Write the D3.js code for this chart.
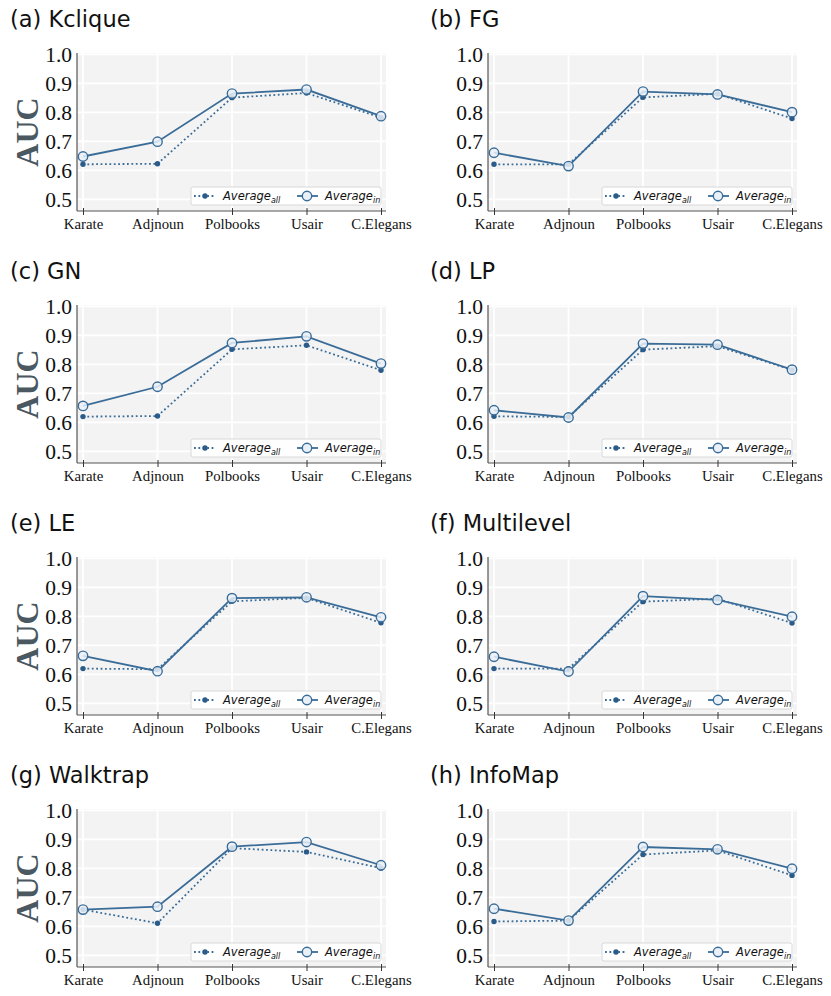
<!DOCTYPE html>
<html>
<head>
<meta charset="utf-8">
<script src="https://cdn.jsdelivr.net/npm/d3@7"></script>
<style>
  body { margin: 0; background: #fff; }
  svg { display: block; }
</style>
</head>
<body>
<div id="chart"></div>
<script>
// data
const datasets = ["Karate", "Adjnoun", "Polbooks", "Usair", "C.Elegans"];
const yTicks = [0.5, 0.6, 0.7, 0.8, 0.9, 1.0];

const panelTitles = ["(a) Kclique", "(b) FG", "(c) GN", "(d) LP",
  "(e) LE", "(f) Multilevel", "(g) Walktrap", "(h) InfoMap"];

// Average_in (solid, open circles)
const averageIn = [
  [0.648, 0.699, 0.865, 0.879, 0.787],
  [0.661, 0.615, 0.872, 0.862, 0.801],
  [0.657, 0.723, 0.874, 0.897, 0.803],
  [0.642, 0.617, 0.872, 0.868, 0.782],
  [0.664, 0.611, 0.863, 0.866, 0.797],
  [0.661, 0.610, 0.870, 0.857, 0.799],
  [0.658, 0.668, 0.875, 0.891, 0.811],
  [0.661, 0.620, 0.874, 0.866, 0.799],
];

// Average_all (dotted, small dots)
const averageAll = [
  [0.621, 0.623, 0.851, 0.867, 0.782],
  [0.621, 0.621, 0.852, 0.864, 0.779],
  [0.620, 0.622, 0.852, 0.866, 0.780],
  [0.621, 0.619, 0.851, 0.863, 0.781],
  [0.620, 0.618, 0.852, 0.864, 0.778],
  [0.620, 0.620, 0.851, 0.861, 0.777],
  [0.658, 0.611, 0.870, 0.857, 0.801],
  [0.617, 0.620, 0.848, 0.862, 0.776],
];

const width = 831, height = 996;
const plotW = 309, plotH = 158;
const colX = [77, 488];
const rowY = 53, rowStep = 252;

const lineColor = "#3a6c98";
const dotColor = "#2a5b89";
const serif = "'Liberation Serif', 'Times New Roman', serif";
const sans = "'DejaVu Sans', sans-serif";

const svg = d3.select("#chart").append("svg")
  .attr("width", width)
  .attr("height", height)
  .attr("viewBox", [0, 0, width, height]);

const x = d3.scalePoint().domain(datasets).range([6, plotW - 5]);
const y = d3.scaleLinear().domain([0.46, 1.005]).range([plotH, 0]);

const line = d3.line()
  .x((d, i) => x(datasets[i]))
  .y((d) => y(d));

panelTitles.forEach((title, p) => {
  const col = p % 2, row = Math.floor(p / 2);
  const ox = colX[col], oy = rowY + row * rowStep;

  svg.append("text")
    .attr("x", ox - (col === 0 ? 67 : 58))
    .attr("y", oy - 26)
    .style("font-family", sans)
    .style("font-size", "22.5px")
    .style("fill", "#111")
    .text(title);

  const g = svg.append("g").attr("transform", `translate(${ox}, ${oy})`);

  g.append("rect")
    .attr("width", plotW)
    .attr("height", plotH)
    .attr("fill", "#f3f3f3");

  // white grid
  g.selectAll(".hgrid")
    .data(yTicks)
    .join("line")
    .attr("class", "hgrid")
    .attr("x1", 0).attr("x2", plotW)
    .attr("y1", (d) => y(d)).attr("y2", (d) => y(d))
    .attr("stroke", "#fff")
    .attr("stroke-width", 1.8);

  g.selectAll(".vgrid")
    .data(datasets)
    .join("line")
    .attr("class", "vgrid")
    .attr("x1", (d) => x(d)).attr("x2", (d) => x(d))
    .attr("y1", 0).attr("y2", plotH)
    .attr("stroke", "#fff")
    .attr("stroke-width", 1.8);

  // axes
  const yAxis = g.append("g")
    .call(d3.axisLeft(y).tickValues(yTicks).tickFormat(d3.format(".1f")).tickSize(0).tickPadding(5));
  yAxis.select(".domain").attr("stroke", "#555").attr("stroke-width", 1.2)
    .attr("d", `M0,0V${plotH}`);
  yAxis.selectAll("text")
    .style("font-family", serif)
    .style("font-size", "21.5px")
    .style("fill", "#111");

  const xAxis = g.append("g")
    .attr("transform", `translate(0, ${plotH})`)
    .call(d3.axisBottom(x).tickSizeInner(4).tickSizeOuter(0).tickPadding(3));
  xAxis.select(".domain").attr("stroke", "#555").attr("stroke-width", 1.2)
    .attr("d", `M0,0H${plotW}`);
  xAxis.selectAll(".tick line").attr("stroke", "#333").attr("y1", -3);
  xAxis.selectAll("text")
    .style("font-family", serif)
    .style("font-size", "14.8px")
    .style("fill", "#111");

  if (col === 0) {
    svg.append("text")
      .attr("transform", `translate(${ox - 39}, ${oy + plotH / 2}) rotate(-90)`)
      .attr("text-anchor", "middle")
      .style("font-family", serif)
      .style("font-weight", "bold")
      .style("font-size", "32px")
      .style("fill", "#4a5862")
      .text("AUC");
  }

  // Average_all: dotted line + small dots
  g.append("path")
    .attr("d", line(averageAll[p]))
    .attr("fill", "none")
    .attr("stroke", lineColor)
    .attr("stroke-width", 1.8)
    .attr("stroke-dasharray", "1.8,2.6");

  g.selectAll(".dot")
    .data(averageAll[p])
    .join("circle")
    .attr("class", "dot")
    .attr("cx", (d, i) => x(datasets[i]))
    .attr("cy", (d) => y(d))
    .attr("r", 2.7)
    .attr("fill", dotColor);

  // Average_in: solid line + open circles
  g.append("path")
    .attr("d", line(averageIn[p]))
    .attr("fill", "none")
    .attr("stroke", lineColor)
    .attr("stroke-width", 1.8);

  g.selectAll(".open")
    .data(averageIn[p])
    .join("circle")
    .attr("class", "open")
    .attr("cx", (d, i) => x(datasets[i]))
    .attr("cy", (d) => y(d))
    .attr("r", 4.7)
    .attr("fill", "#e9f0f7")
    .attr("fill-opacity", 0.85)
    .attr("stroke", lineColor)
    .attr("stroke-width", 1.4);

  // legend
  const lg = g.append("g").attr("transform", `translate(${plotW - 195}, ${plotH - 24})`);
  lg.append("rect")
    .attr("width", 190).attr("height", 18)
    .attr("rx", 2)
    .attr("fill", "#fff").attr("fill-opacity", 0.85)
    .attr("stroke", "#d0d0d0").attr("stroke-width", 0.8);

  lg.append("line")
    .attr("x1", 3).attr("x2", 25).attr("y1", 9).attr("y2", 9)
    .attr("stroke", lineColor).attr("stroke-width", 1.8)
    .attr("stroke-dasharray", "1.8,2.6");
  lg.append("circle").attr("cx", 14).attr("cy", 9).attr("r", 2.7).attr("fill", dotColor);

  lg.append("line")
    .attr("x1", 106).attr("x2", 127).attr("y1", 9).attr("y2", 9)
    .attr("stroke", lineColor).attr("stroke-width", 1.8);
  lg.append("circle").attr("cx", 116).attr("cy", 9).attr("r", 4.7)
    .attr("fill", "#e9f0f7").attr("stroke", lineColor).attr("stroke-width", 1.4);

  [["all", 32], ["in", 134]].forEach(([sub, tx]) => {
    const t = lg.append("text")
      .attr("x", tx).attr("y", 13)
      .style("font-family", sans)
      .style("font-style", "italic")
      .style("font-size", "11.5px")
      .style("fill", "#111");
    t.append("tspan").text("Average");
    t.append("tspan").attr("dy", 2.5).style("font-size", "8px").text(sub);
  });
});
</script>
</body>
</html>
